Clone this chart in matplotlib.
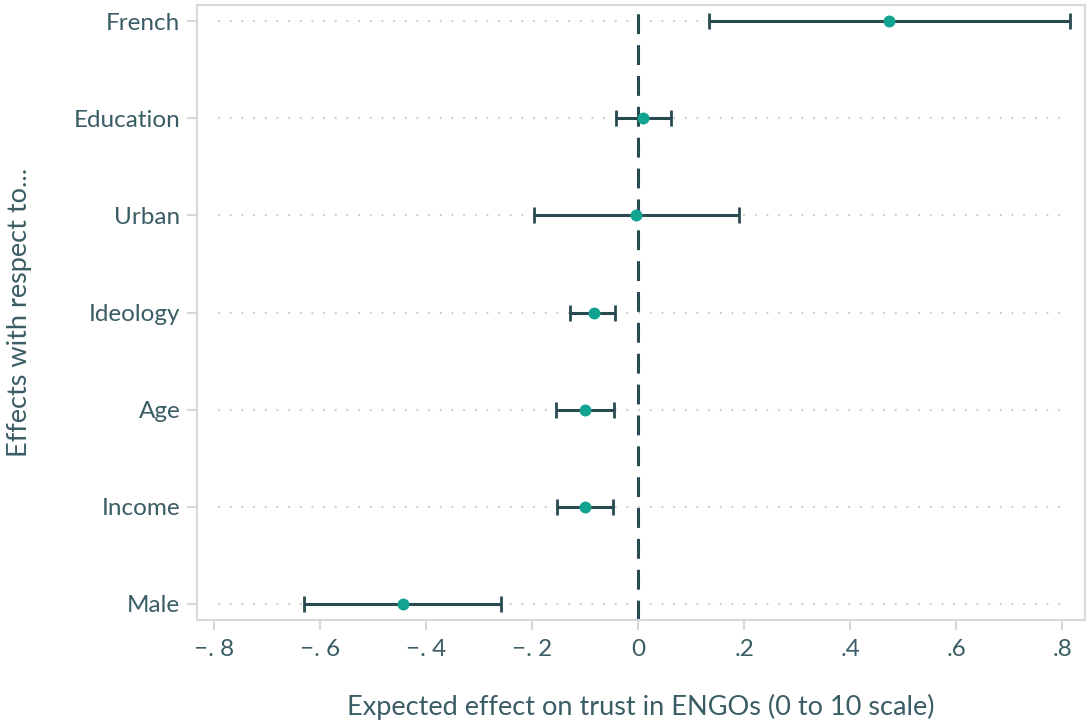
import matplotlib
matplotlib.use("Agg")
import matplotlib.pyplot as plt

# Coefficient estimates with 95% confidence intervals
variables = ["French", "Education", "Urban", "Ideology", "Age", "Income", "Male"]
estimates = [0.474, 0.010, -0.004, -0.084, -0.100, -0.101, -0.444]
ci_low = [0.134, -0.042, -0.196, -0.128, -0.155, -0.153, -0.630]
ci_high = [0.815, 0.062, 0.191, -0.043, -0.045, -0.047, -0.259]

xticks = [-0.8, -0.6, -0.4, -0.2, 0.0, 0.2, 0.4, 0.6, 0.8]
xtick_labels = ["\u2212. 8", "\u2212. 6", "\u2212. 4", "\u2212. 2", "0", ".2", ".4", ".6", ".8"]

TEXT = "#3a5c64"
DARK = "#2a4a52"
TEAL = "#12a390"
FRAME = "#d8d8d8"
GRID = "#cccccc"

plt.rcParams["font.family"] = ["Lato", "DejaVu Sans"]

fig = plt.figure(figsize=(10.92, 7.23), dpi=100)
ax = fig.add_axes([197 / 1092, 1 - 620 / 723, (1085 - 197) / 1092, (620 - 5) / 723])

n = len(variables)
ypos = [n - i for i in range(n)]

# dotted reference lines for each row
for y in ypos:
    ax.plot([-0.79, 0.806], [y, y], color=GRID, lw=1.6,
            linestyle=(0, (0.05, 5.2)), dash_capstyle="round", zorder=1)

# vertical dashed line at zero
ax.axvline(0, color=DARK, lw=2.2, linestyle=(0, (6.5, 3.6)), zorder=2)

xerr_lo = [e - l for e, l in zip(estimates, ci_low)]
xerr_hi = [h - e for e, h in zip(estimates, ci_high)]
ax.errorbar(estimates, ypos, xerr=[xerr_lo, xerr_hi], fmt="none",
            ecolor=DARK, elinewidth=2.2, capsize=5.5, capthick=2.0, zorder=3)
ax.plot(estimates, ypos, "o", color=TEAL, markersize=8.6, markeredgewidth=0, zorder=4)

ax.set_xlim(-0.832, 0.843)
ax.set_ylim(0.835, 7.165)

ax.set_yticks(ypos)
ax.set_yticklabels(variables)
ax.set_xticks(xticks)
ax.set_xticklabels(xtick_labels)

ax.tick_params(axis="both", colors=FRAME, width=1.5, length=7, labelcolor=TEXT,
               labelsize=17.5)
ax.tick_params(axis="y", pad=5)
ax.tick_params(axis="x", pad=7)

for s in ax.spines.values():
    s.set_color(FRAME)
    s.set_linewidth(1.5)

ax.set_xlabel("Expected effect on trust in ENGOs (0 to 10 scale)", color=TEXT,
              fontsize=19.5, labelpad=24)
ax.set_ylabel("Effects with respect to...", color=TEXT, fontsize=19.5, labelpad=30)

fig.savefig("out.png", dpi=100, facecolor="white")
